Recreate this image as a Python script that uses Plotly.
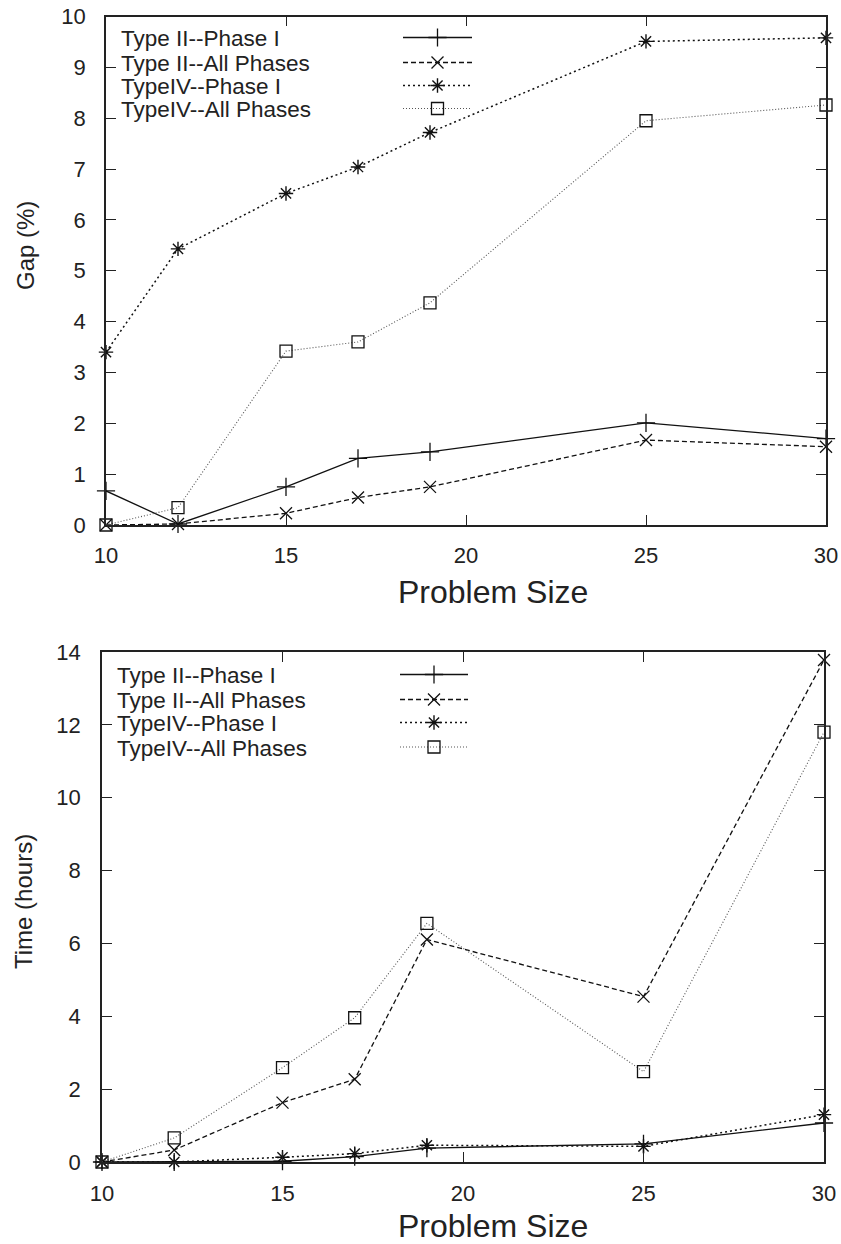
import plotly.graph_objects as go

# ---------------- data ----------------
sizes = [10, 12, 15, 17, 19, 25, 30]
series_names = ["Type II--Phase I", "Type II--All Phases", "TypeIV--Phase I", "TypeIV--All Phases"]

gap_t2_phase1 = [0.67, 0.02, 0.75, 1.31, 1.44, 2.01, 1.70]
gap_t2_all = [0.0, 0.02, 0.23, 0.54, 0.75, 1.67, 1.54]
gap_t4_phase1 = [3.40, 5.43, 6.52, 7.04, 7.72, 9.51, 9.58]
gap_t4_all = [0.0, 0.34, 3.42, 3.60, 4.37, 7.95, 8.26]

time_t2_phase1 = [0.0, 0.0, 0.02, 0.15, 0.38, 0.50, 1.07]
time_t2_all = [0.0, 0.33, 1.63, 2.27, 6.11, 4.54, 13.78]
time_t4_phase1 = [0.0, 0.0, 0.13, 0.23, 0.46, 0.43, 1.30]
time_t4_all = [0.0, 0.66, 2.59, 3.96, 6.55, 2.48, 11.80]

x_ticks = [10, 15, 20, 25, 30]
gap_ticks = list(range(0, 11))
time_ticks = list(range(0, 15, 2))

# ---------------- styles ----------------
W, H = 841, 1244
INK = "#222222"
FONT = "Liberation Sans, Arial, Helvetica, sans-serif"

styles = [
    dict(dash="solid", width=1.3, color="#111111", symbol="cross-thin-open", msize=13, mwidth=1.3),
    dict(dash="5px,3px", width=1.3, color="#111111", symbol="x-thin-open", msize=12, mwidth=1.3),
    dict(dash="2px,3px", width=1.5, color="#111111", symbol="asterisk-open", msize=12, mwidth=1.4),
    dict(dash="1px,2px", width=1.1, color="#555555", symbol="square-open", msize=12, mwidth=1.3),
]

# plot area boxes in page pixels (left, right, top, bottom)
top_box = (106, 826, 16.5, 525)
bot_box = (102, 824, 652, 1162)


def px(x):
    return x / W


def py(y):
    return 1 - y / H


def dom_x(b):
    return [px(b[0]), px(b[1])]


def dom_y(b):
    return [py(b[3]), py(b[2])]


fig = go.Figure()

top_series = [gap_t2_phase1, gap_t2_all, gap_t4_phase1, gap_t4_all]
bot_series = [time_t2_phase1, time_t2_all, time_t4_phase1, time_t4_all]

for name, ys, st in zip(series_names, top_series, styles):
    fig.add_trace(go.Scatter(
        x=sizes, y=ys, name=name, mode="lines+markers", xaxis="x", yaxis="y",
        line=dict(color=st["color"], width=st["width"], dash=st["dash"]),
        marker=dict(symbol=st["symbol"], size=st["msize"], color="#111111",
                    line=dict(color="#111111", width=st["mwidth"])),
        cliponaxis=False, showlegend=False))

for name, ys, st in zip(series_names, bot_series, styles):
    fig.add_trace(go.Scatter(
        x=sizes, y=ys, name=name, mode="lines+markers", xaxis="x2", yaxis="y2",
        line=dict(color=st["color"], width=st["width"], dash=st["dash"]),
        marker=dict(symbol=st["symbol"], size=st["msize"], color="#111111",
                    line=dict(color="#111111", width=st["mwidth"])),
        cliponaxis=False, showlegend=False))

# ---------------- legends (gnuplot style: text left, sample right) ----------------
legend_specs = [
    # (xaxis, yaxis, text_x, sample_x0, sample_x1, rows_y)  -- page pixels
    ("x3", "y3", 120, 403, 472, [37.5, 62.5, 85.5, 108.5]),
    ("x4", "y4", 116, 400, 468, [674.5, 699.5, 722.5, 747]),
]

annotations = []
for xa, ya, tx, sx0, sx1, rows in legend_specs:
    for name, st, ry in zip(series_names, styles, rows):
        fig.add_trace(go.Scatter(
            x=[sx0, sx1], y=[ry, ry], mode="lines", xaxis=xa, yaxis=ya,
            line=dict(color=st["color"], width=st["width"], dash=st["dash"]),
            hoverinfo="skip", showlegend=False, cliponaxis=False))
        fig.add_trace(go.Scatter(
            x=[(sx0 + sx1) / 2], y=[ry], mode="markers", xaxis=xa, yaxis=ya,
            marker=dict(symbol=st["symbol"], size=st["msize"], color="#111111",
                        line=dict(color="#111111", width=st["mwidth"])),
            hoverinfo="skip", showlegend=False, cliponaxis=False))
        annotations.append(dict(
            text=name, x=px(tx), y=py(ry + 1), xref="paper", yref="paper",
            xanchor="left", yanchor="middle", showarrow=False, borderpad=0,
            font=dict(family=FONT, size=22.5, color=INK)))

# axis titles
annotations += [
    dict(text="Problem Size", x=px(493), y=py(592), xref="paper", yref="paper",
         xanchor="center", yanchor="middle", showarrow=False,
         font=dict(family=FONT, size=32, color=INK)),
    dict(text="Problem Size", x=px(493), y=py(1226), xref="paper", yref="paper",
         xanchor="center", yanchor="middle", showarrow=False,
         font=dict(family=FONT, size=32, color=INK)),
    dict(text="Gap (%)", x=px(25), y=py(246), xref="paper", yref="paper",
         xanchor="center", yanchor="middle", showarrow=False, textangle=-90,
         font=dict(family=FONT, size=24, color=INK)),
    dict(text="Time (hours)", x=px(23), y=py(902), xref="paper", yref="paper",
         xanchor="center", yanchor="middle", showarrow=False, textangle=-90,
         font=dict(family=FONT, size=24, color=INK)),
]

axis_common = dict(
    showline=True, linecolor=INK, linewidth=1.5, mirror="ticks",
    ticks="inside", ticklen=10, tickwidth=1.3, tickcolor=INK,
    showgrid=False, zeroline=False, automargin=False,
    tickfont=dict(family=FONT, size=22, color=INK),
)

fig.update_layout(
    template="none",
    width=W, height=H,
    margin=dict(l=0, r=0, t=0, b=0, pad=0),
    paper_bgcolor="white", plot_bgcolor="rgba(0,0,0,0)",
    showlegend=False,
    xaxis=dict(domain=dom_x(top_box), range=[10, 30], tickvals=x_ticks,
               anchor="y", ticklabelstandoff=10, **axis_common),
    yaxis=dict(domain=dom_y(top_box), range=[0, 10], tickvals=gap_ticks,
               anchor="x", ticklabelstandoff=14, **axis_common),
    xaxis2=dict(domain=dom_x(bot_box), range=[10, 30], tickvals=x_ticks,
                anchor="y2", ticklabelstandoff=11, **axis_common),
    yaxis2=dict(domain=dom_y(bot_box), range=[0, 14], tickvals=time_ticks,
                anchor="x2", ticklabelstandoff=15, **axis_common),
    # page-pixel overlay axes used only for the legend samples
    xaxis3=dict(overlaying="x", range=[top_box[0], top_box[1]], visible=False,
                anchor="y3", automargin=False),
    yaxis3=dict(overlaying="y", range=[top_box[3], top_box[2]], visible=False,
                anchor="x3", automargin=False),
    xaxis4=dict(overlaying="x2", range=[bot_box[0], bot_box[1]], visible=False,
                anchor="y4", automargin=False),
    yaxis4=dict(overlaying="y2", range=[bot_box[3], bot_box[2]], visible=False,
                anchor="x4", automargin=False),
    annotations=annotations,
)

# remove the default 8px page margin so the figure fills the window exactly
fig.write_html(
    "out.html",
    config={"displayModeBar": False},
    post_script="document.body.style.margin='0px';document.body.style.overflow='hidden';",
)
